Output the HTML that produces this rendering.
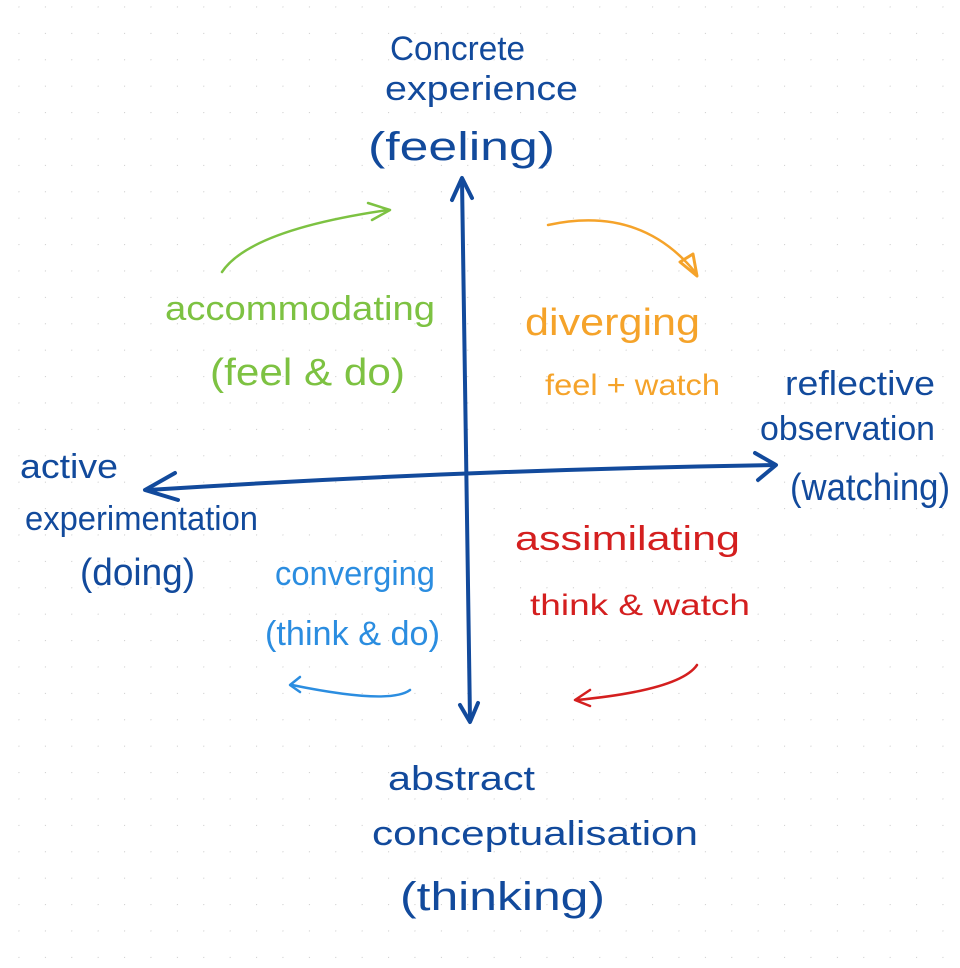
<!DOCTYPE html>
<html><head><meta charset="utf-8"><style>
html,body{margin:0;padding:0;background:#fff;}
svg{display:block}
text{font-family:"Liberation Sans",sans-serif;}
</style></head><body>
<svg width="960" height="968" viewBox="0 0 960 968" xmlns="http://www.w3.org/2000/svg">
<defs>
<pattern id="dots" x="18.5" y="6.5" width="26.4" height="26.4" patternUnits="userSpaceOnUse">
<circle cx="0" cy="0" r="1.1" fill="#c4c4c4"/>
</pattern>
</defs>
<rect width="960" height="968" fill="#fff"/>
<rect width="960" height="968" fill="url(#dots)"/>

<g fill="none" stroke="#124a9c" stroke-width="4" stroke-linecap="round" stroke-linejoin="round">
<path d="M462 180 Q466 450 470 720"/>
<path d="M452 200 L462 178 L472 198"/>
<path d="M460 705 L470 722 L478 703"/>
<path d="M148 490 Q460 470 775 465"/>
<path d="M175 473 L145 490 L178 500"/>
<path d="M755 453 L776 465 L758 480"/>
</g>

<g fill="none" stroke-width="2.5" stroke-linecap="round" stroke-linejoin="round">
<path stroke="#7dc242" d="M222 272 Q250 230 388 210"/>
<path stroke="#7dc242" d="M368 203 L390 210 L372 220"/>
<path stroke="#f5a32a" d="M548 225 Q640 205 695 272"/>
<path stroke="#f5a32a" d="M680 262 L697 276 L693 254 Z" stroke-width="3"/>
<path stroke="#d41f1f" d="M697 665 Q680 690 577 700"/>
<path stroke="#d41f1f" d="M590 690 L575 700 L590 706"/>
<path stroke="#2b8de0" d="M410 690 Q390 705 292 685"/>
<path stroke="#2b8de0" d="M300 677 L290 685 L300 692"/>
</g>

<g fill="#124a9c" font-size="34">
<text x="390" y="60" textLength="135" lengthAdjust="spacingAndGlyphs">Concrete</text>
<text x="385" y="100" textLength="193" lengthAdjust="spacingAndGlyphs">experience</text>
<text x="368" y="160" textLength="187" lengthAdjust="spacingAndGlyphs" font-size="40">(feeling)</text>
<text x="20" y="478" textLength="98" lengthAdjust="spacingAndGlyphs">active</text>
<text x="25" y="530" textLength="233" lengthAdjust="spacingAndGlyphs">experimentation</text>
<text x="80" y="585" textLength="115" lengthAdjust="spacingAndGlyphs" font-size="38">(doing)</text>
<text x="785" y="395" textLength="150" lengthAdjust="spacingAndGlyphs">reflective</text>
<text x="760" y="440" textLength="175" lengthAdjust="spacingAndGlyphs">observation</text>
<text x="790" y="500" textLength="160" lengthAdjust="spacingAndGlyphs" font-size="38">(watching)</text>
<text x="388" y="790" textLength="147" lengthAdjust="spacingAndGlyphs">abstract</text>
<text x="372" y="845" textLength="326" lengthAdjust="spacingAndGlyphs">conceptualisation</text>
<text x="400" y="910" textLength="205" lengthAdjust="spacingAndGlyphs" font-size="40">(thinking)</text>
</g>

<g font-size="34">
<text fill="#7dc242" x="165" y="320" textLength="270" lengthAdjust="spacingAndGlyphs">accommodating</text>
<text fill="#7dc242" x="210" y="385" textLength="195" lengthAdjust="spacingAndGlyphs" font-size="38">(feel &amp; do)</text>
<text fill="#f5a32a" x="525" y="335" textLength="175" lengthAdjust="spacingAndGlyphs" font-size="38">diverging</text>
<text fill="#f5a32a" x="545" y="395" textLength="175" lengthAdjust="spacingAndGlyphs" font-size="30">feel + watch</text>
<text fill="#d41f1f" x="515" y="550" textLength="225" lengthAdjust="spacingAndGlyphs">assimilating</text>
<text fill="#d41f1f" x="530" y="615" textLength="220" lengthAdjust="spacingAndGlyphs" font-size="30">think &amp; watch</text>
<text fill="#2b8de0" x="275" y="585" textLength="160" lengthAdjust="spacingAndGlyphs">converging</text>
<text fill="#2b8de0" x="265" y="645" textLength="175" lengthAdjust="spacingAndGlyphs" font-size="34">(think &amp; do)</text>
</g>
</svg>
</body></html>
